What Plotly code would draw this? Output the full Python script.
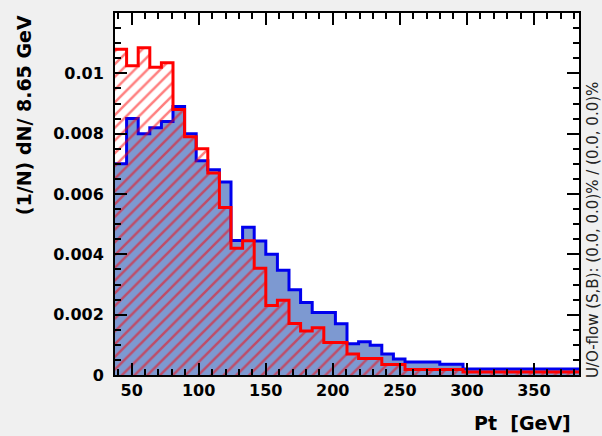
import plotly.graph_objects as go

# Histogram binning (TMVA style variable plot)
x_min = 37.6
bin_width = 8.65
n_bins = 40

# Signal (blue, filled) normalised bin contents
signal = [0.0070, 0.0085, 0.0080, 0.0082, 0.0084, 0.0089, 0.0080, 0.0071, 0.0068, 0.0064,
          0.00446, 0.0049, 0.00444, 0.0040, 0.00347, 0.00283, 0.0024, 0.00207, 0.00207, 0.0017,
          0.00104, 0.0011, 0.00099, 0.0007, 0.00053, 0.00043, 0.00043, 0.00043, 0.00036, 0.00036,
          0.0002, 0.0002, 0.0002, 0.0002, 0.0002, 0.0002, 0.0002, 0.0002, 0.0002, 0.0002]

# Background (red, hatched) normalised bin contents
background = [0.0108, 0.01025, 0.01085, 0.0102, 0.01035, 0.0088, 0.0079, 0.0075, 0.0067, 0.00555,
              0.0042, 0.00445, 0.00354, 0.0023, 0.00248, 0.00171, 0.00146, 0.00157, 0.00108, 0.00108,
              0.0007, 0.00055, 0.00055, 0.00035, 0.00035, 0.00018, 0.00018, 0.00018, 0.00018, 0.00018,
              0.0001, 0.0001, 0.0001, 0.0001, 0.0001, 0.0001, 0.0001, 0.0001, 0.0001, 0.0001]

y_tick_vals = [0, 0.002, 0.004, 0.006, 0.008, 0.01]
y_tick_text = ["0", "0.002", "0.004", "0.006", "0.008", "0.01"]
x_tick_vals = [50, 100, 150, 200, 250, 300, 350]

edges = [x_min + i * bin_width for i in range(n_bins + 1)]
x_max = edges[-1]

fig = go.Figure()
fig.add_trace(go.Scatter(
    x=edges, y=signal + [signal[-1]], mode="lines", line_shape="hv",
    line=dict(color="#0000ee", width=3), fill="tozeroy", fillcolor="#7d99d1",
    showlegend=False, hoverinfo="skip"))
fig.add_trace(go.Scatter(
    x=edges, y=background + [background[-1]], mode="lines", line_shape="hv",
    line=dict(color="#ff0000", width=3), fill="tozeroy", fillcolor="rgba(0,0,0,0)",
    fillpattern=dict(shape="/", fgcolor="#ff0000", size=9, solidity=0.28),
    showlegend=False, hoverinfo="skip"))

font_fam = "DejaVu Sans"
tick_font = dict(family=font_fam, size=16, color="black", weight="bold")
fig.update_layout(
    width=602, height=436,
    margin=dict(l=115, r=23, t=13, b=61),
    paper_bgcolor="#f0f0f0", plot_bgcolor="white",
    font=dict(family=font_fam, color="black"),
    xaxis=dict(range=[x_min, x_max], tickvals=x_tick_vals, ticks="inside", ticklen=12,
               tickwidth=1.5, tickcolor="black", showline=True, linecolor="black", linewidth=2,
               mirror="allticks", showgrid=False, zeroline=False, tickfont=tick_font,
               minor=dict(dtick=10, tick0=0, ticks="inside", ticklen=6, tickcolor="black", tickwidth=1.5)),
    yaxis=dict(range=[0, 0.012], tickvals=y_tick_vals, ticktext=y_tick_text, ticks="inside", ticklen=12,
               tickwidth=1.5, tickcolor="black", showline=True, linecolor="black", linewidth=2,
               mirror="allticks", showgrid=False, zeroline=False, ticklabelstandoff=6,
               tickfont=tick_font,
               minor=dict(dtick=0.0005, tick0=0, ticks="inside", ticklen=6, tickcolor="black", tickwidth=1.5)),
)

fig.add_annotation(text="<b>(1/N) dN/ 8.65 GeV</b>", xref="paper", yref="paper",
                   x=-0.196, y=0.718, xanchor="center", yanchor="middle", textangle=-90,
                   showarrow=False, font=dict(family=font_fam, size=19, color="black"))
fig.add_annotation(text="<b>Pt  [GeV]</b>", xref="paper", yref="paper",
                   x=0.987, y=-0.1326, xanchor="right", yanchor="middle",
                   showarrow=False, font=dict(family=font_fam, size=19, color="black"))
fig.add_annotation(text="U/O-flow (S,B): (0.0, 0.0)% / (0.0, 0.0)%", xref="paper", yref="paper",
                   x=1.030, y=0.40, xanchor="center", yanchor="middle", textangle=-90,
                   showarrow=False, font=dict(family=font_fam, size=15, color="#222222"))

fig.write_html("out.html")
